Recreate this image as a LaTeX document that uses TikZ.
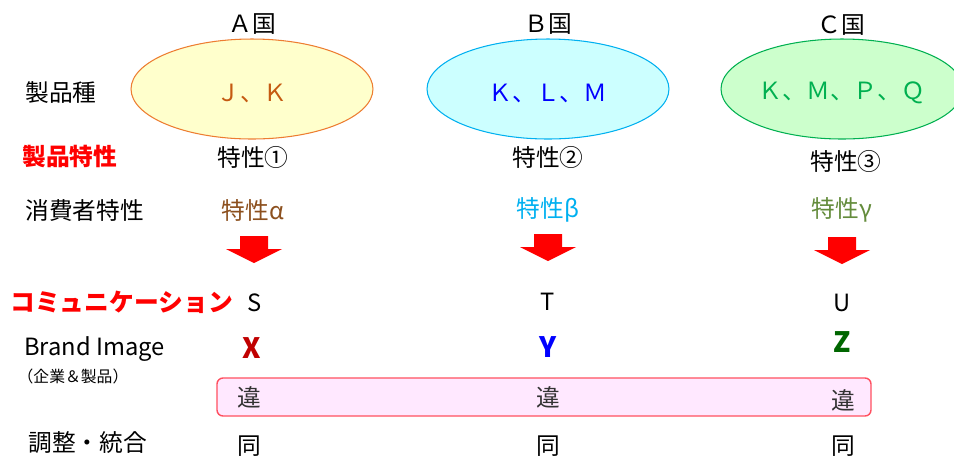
\documentclass[tikz,border=0pt]{standalone}
\usepackage{fontspec}
\setmainfont{Noto Sans CJK JP}
\usetikzlibrary{shapes.geometric}
\definecolor{orangeA}{RGB}{237,125,49}
\definecolor{yellowfill}{RGB}{255,255,204}
\definecolor{brownA}{RGB}{197,90,17}
\definecolor{brownAlpha}{RGB}{140,80,30}
\definecolor{cyanB}{RGB}{0,176,240}
\definecolor{cyanfill}{RGB}{204,255,255}
\definecolor{greenC}{RGB}{0,176,80}
\definecolor{greenfill}{RGB}{204,255,204}
\definecolor{oliveC}{RGB}{100,140,60}
\definecolor{darkredX}{RGB}{192,0,0}
\definecolor{darkgreenZ}{RGB}{0,102,0}
\definecolor{pinkbox}{RGB}{255,232,255}
\definecolor{pinkline}{RGB}{255,80,96}
\def\redarrow(#1, #2){\fill[red] ({#1-14}, #2) -- ({#1+14}, #2) -- ({#1+14}, {#2+13}) -- ({#1+28}, {#2+13}) -- (#1, {#2+27}) -- ({#1-28}, {#2+13}) -- ({#1-14}, {#2+13}) -- cycle;}
\def\lowered#1{\raisebox{-0.08cm}[\height][\depth]{#1}}

\begin{document}
\begin{tikzpicture}[x=0.02cm, y=-0.02cm,
	every node/.style={font=\fontsize{13.5}{16}\selectfont, inner sep=0pt},
	rowlabel/.style={anchor=west},
	redlabel/.style={anchor=west, text=red, font=\fontsize{13.5}{16}\selectfont\bfseries},
	country/.style={ellipse, line width=0.6pt, minimum width=4.84cm, minimum height=2cm},
	brand/.style={font=\fontsize{16}{18}\selectfont\bfseries}]
			%%%%% START %%%%%
			
			\clip (0, 0) rectangle (954, 458);
			
			\node[rowlabel] (kind) at (25, 93) {製品種};
			\node[redlabel] (prodchar) at (22, 156) {製品特性};
			\node[rowlabel] (conschar) at (25, 210) {消費者特性};
			\node[redlabel, font=\fontsize{14.1}{16}\selectfont\bfseries] (comm) at (10, 302) {コミュニケーション};
			\node[rowlabel] (brandimg) at (24, 349) {Brand Image};
			\node[font=\fontsize{9}{11}\selectfont] (brandsub) at (73, 376) {（企業＆製品）};
			\node[rowlabel] (adjust) at (28, 443) {調整・統合};
			
			\node (nameA) at (252, 24) {Ａ国};
			\node (nameB) at (548, 24) {Ｂ国};
			\node (nameC) at (841, 25) {Ｃ国};
			
			\node[country, draw=orangeA, fill=yellowfill, text=brownA] (ellA) at (252, 89) {\lowered{Ｊ、Ｋ}};
			\node[country, draw=cyanB, fill=cyanfill, text=blue] (ellB) at (548, 89) {\lowered{Ｋ、Ｌ、Ｍ}};
			\node[country, draw=greenC, fill=greenfill, text=greenC] (ellC) at (842, 89) {\lowered{Ｋ、Ｍ、Ｐ、Ｑ}};
			
			\node (prodA) at (253, 157) {特性①};
			\node (prodB) at (548, 157) {特性②};
			\node (prodC) at (846, 161) {特性③};
			
			\node[text=brownAlpha] (consA) at (253, 210) {特性α};
			\node[text=cyanB] (consB) at (548, 210) {特性β};
			\node[text=oliveC] (consC) at (842, 210) {特性γ};
			
			\redarrow(254, 236)
			\redarrow(548, 234)
			\redarrow(842, 237)
			
			\node (commA) at (255, 303) {S};
			\node (commB) at (548, 302) {T};
			\node (commC) at (842, 303) {U};
			
			\node[brand, text=darkredX] (imgA) at (252, 348) {X};
			\node[brand, text=blue] (imgB) at (548, 347) {Y};
			\node[brand, text=darkgreenZ] (imgC) at (842, 342) {Z};
			
			\draw[line width=0.8pt, draw=pinkline, fill=pinkbox, rounded corners=0.12cm] (217, 378) rectangle (871, 416);
			\node[text=black!80] (diffA) at (249, 397) {違};
			\node[text=black!80] (diffB) at (548, 397) {違};
			\node[text=black!80] (diffC) at (843, 400) {違};
			
			\node (sameA) at (249, 446) {同};
			\node (sameB) at (548, 446) {同};
			\node (sameC) at (843, 446) {同};
			
			%%%%% END %%%%%
\end{tikzpicture}
\end{document}
